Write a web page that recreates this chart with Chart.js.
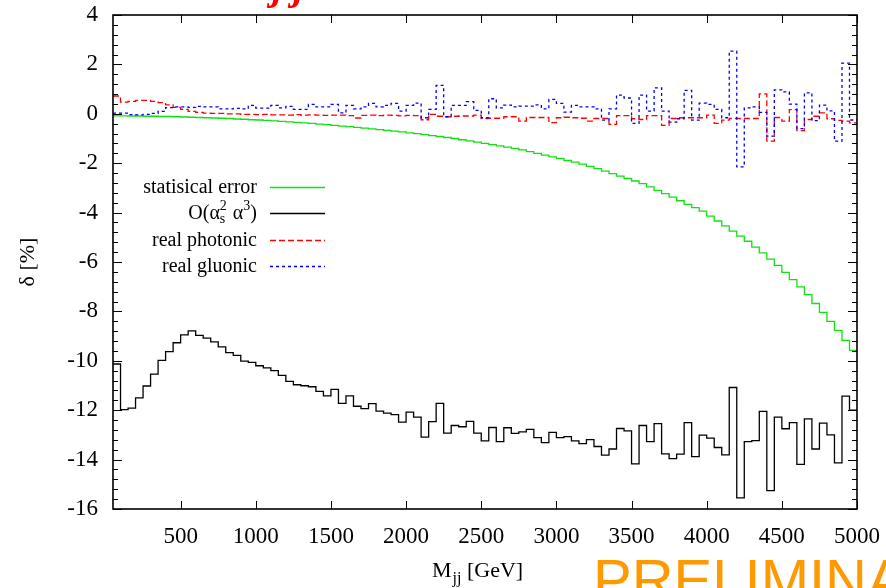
<!DOCTYPE html>
<html lang="en">
<head>
  <meta charset="UTF-8" />
  <title>Relative corrections vs M_jj</title>
  <style>
    body { margin: 0; background: #fff; }
    canvas { display: block; }
  </style>
</head>
<body>
  <canvas id="chart" width="886" height="588"></canvas>

  <script src="https://cdn.jsdelivr.net/npm/chart.js"></script>
  <script>
    // 50 GeV bins, left edges from 50 up to the closing edge at 5000
    const binEdges = [50, 100, 150, 200, 250, 300, 350, 400, 450, 500, 550, 600, 650, 700, 750, 800, 850, 900, 950, 1000,
      1050, 1100, 1150, 1200, 1250, 1300, 1350, 1400, 1450, 1500, 1550, 1600, 1650, 1700, 1750, 1800, 1850, 1900, 1950, 2000,
      2050, 2100, 2150, 2200, 2250, 2300, 2350, 2400, 2450, 2500, 2550, 2600, 2650, 2700, 2750, 2800, 2850, 2900, 2950, 3000,
      3050, 3100, 3150, 3200, 3250, 3300, 3350, 3400, 3450, 3500, 3550, 3600, 3650, 3700, 3750, 3800, 3850, 3900, 3950, 4000,
      4050, 4100, 4150, 4200, 4250, 4300, 4350, 4400, 4450, 4500, 4550, 4600, 4650, 4700, 4750, 4800, 4850, 4900, 4950, 5000];

    const xTicks = [500, 1000, 1500, 2000, 2500, 3000, 3500, 4000, 4500, 5000];

    // statistical error [%]
    const statError = [-0.08, -0.08, -0.09, -0.09, -0.10, -0.10, -0.11, -0.11, -0.12, -0.13,
      -0.14, -0.15, -0.16, -0.17, -0.18, -0.19, -0.21, -0.22, -0.24, -0.25,
      -0.27, -0.29, -0.31, -0.33, -0.35, -0.37, -0.39, -0.42, -0.44, -0.47,
      -0.50, -0.52, -0.55, -0.58, -0.61, -0.64, -0.67, -0.70, -0.73, -0.77,
      -0.80, -0.84, -0.88, -0.92, -0.96, -1.00, -1.05, -1.10, -1.15, -1.20,
      -1.25, -1.30, -1.35, -1.40, -1.46, -1.53, -1.60, -1.67, -1.74, -1.81,
      -1.89, -1.96, -2.04, -2.13, -2.22, -2.32, -2.42, -2.52, -2.62, -2.72,
      -2.83, -2.96, -3.10, -3.23, -3.37, -3.52, -3.67, -3.80, -3.94, -4.14,
      -4.34, -4.54, -4.75, -4.95, -5.16, -5.40, -5.63, -5.88, -6.14, -6.42,
      -6.71, -7.01, -7.32, -7.68, -8.04, -8.40, -8.77, -9.17, -9.58];

    // O(alpha_s^2 alpha^3) correction [%]
    const mixedOrder = [-10.13, -11.98, -11.92, -11.50, -11.02, -10.54, -9.98, -9.63, -9.27, -8.95,
      -8.79, -8.97, -9.08, -9.23, -9.44, -9.67, -9.78, -10.01, -10.06, -10.20,
      -10.29, -10.40, -10.59, -10.83, -10.97, -11.01, -11.05, -11.24, -11.42, -11.16,
      -11.72, -11.42, -11.84, -11.94, -11.73, -12.04, -12.12, -12.18, -12.48, -12.08,
      -12.28, -13.09, -12.46, -11.72, -12.93, -12.62, -12.67, -12.45, -12.93, -13.24,
      -12.70, -13.27, -12.71, -12.94, -12.88, -12.78, -13.11, -13.31, -12.90, -13.11,
      -13.07, -13.24, -13.35, -13.19, -13.47, -13.82, -13.57, -12.74, -12.84, -14.17,
      -12.62, -13.27, -12.54, -13.77, -13.96, -13.78, -12.50, -13.88, -13.01, -13.13,
      -13.51, -13.81, -11.08, -15.55, -13.27, -13.23, -12.05, -15.26, -12.28, -12.75,
      -12.50, -14.19, -12.35, -13.57, -12.52, -13.00, -14.13, -11.43, -12.00];

    // real photonic contribution [%]
    const realPhotonic = [0.72, 0.47, 0.50, 0.54, 0.54, 0.50, 0.45, 0.36, 0.26, 0.18,
      0.10, 0.06, 0.03, 0.02, 0.02, 0.00, 0.00, -0.02, -0.02, -0.03,
      -0.02, -0.04, -0.04, -0.05, -0.03, -0.05, -0.04, -0.05, -0.06, -0.05,
      -0.05, -0.07, -0.17, -0.06, -0.05, -0.07, -0.05, -0.06, -0.08, -0.06,
      -0.07, -0.24, -0.02, -0.10, -0.12, -0.10, -0.09, -0.09, -0.05, -0.19,
      -0.18, -0.18, -0.12, -0.12, -0.30, -0.15, -0.15, -0.15, -0.36, -0.16,
      -0.14, -0.16, -0.18, -0.30, -0.19, -0.19, -0.43, -0.07, -0.07, -0.20,
      -0.23, -0.07, -0.07, -0.47, -0.19, -0.16, -0.16, -0.16, -0.16, -0.05,
      -0.39, -0.26, -0.19, -0.19, -0.19, -0.19, 0.81, -1.11, -0.15, -0.30,
      0.17, -0.68, -0.23, -0.10, 0.04, -0.20, -0.27, -0.30, -0.37];

    // real gluonic contribution [%]
    const realGluonic = [0.03, 0.03, -0.03, -0.04, -0.02, 0.02, 0.10, 0.25, 0.28, 0.28,
      0.26, 0.30, 0.28, 0.28, 0.20, 0.20, 0.22, 0.20, 0.34, 0.23,
      0.23, 0.34, 0.24, 0.30, 0.18, 0.18, 0.38, 0.28, 0.28, 0.38,
      0.04, 0.34, 0.20, 0.28, 0.42, 0.28, 0.34, 0.42, 0.11, 0.34,
      0.43, -0.16, 0.18, 1.15, -0.12, 0.34, 0.34, 0.49, 0.14, -0.16,
      0.61, 0.24, 0.35, 0.28, 0.31, 0.31, 0.36, 0.20, 0.58, 0.42,
      0.07, 0.34, 0.28, 0.28, 0.20, -0.26, 0.20, 0.76, 0.64, -0.39,
      0.76, 0.11, 1.05, 0.11, -0.34, -0.20, 0.95, -0.26, 0.43, 0.38,
      0.18, -0.16, 2.54, -2.15, 0.24, 0.28, 0.06, -0.90, 0.97, 0.89,
      0.39, -0.60, 0.85, -0.28, 0.35, 0.12, -1.11, 2.05, -0.25];

    const serif = '"Liberation Serif", "DejaVu Serif", serif';

    // histogram: each value held from its left edge to the next edge
    function histPoints(values) {
      return binEdges.map((x, i) => ({ x: x, y: values[Math.min(i, values.length - 1)] }));
    }

    const series = [
      { label: 'statisical error', data: statError, color: '#11e011', dash: [] },
      { label: 'O(as2 a3)', data: mixedOrder, color: '#000000', dash: [] },
      { label: 'real photonic', data: realPhotonic, color: '#ff0000', dash: [6, 3] },
      { label: 'real gluonic', data: realGluonic, color: '#0000ff', dash: [3, 3] }
    ];

    // box and inward ticks on all four sides
    const framePlugin = {
      id: 'frame',
      afterDatasetsDraw(chart) {
        const { ctx, chartArea: a, scales: { x, y } } = chart;
        ctx.save();
        ctx.strokeStyle = '#000';
        ctx.lineWidth = 1;
        ctx.beginPath();
        xTicks.forEach(v => {
          const px = Math.round(x.getPixelForValue(v)) + 0.5;
          ctx.moveTo(px, a.bottom); ctx.lineTo(px, a.bottom - 8);
          ctx.moveTo(px, a.top); ctx.lineTo(px, a.top + 8);
        });
        for (let k = 0; k <= 50; k++) {
          const v = -16 + k * 0.4;
          const len = k % 5 === 0 ? 9 : 5;
          const py = Math.round(y.getPixelForValue(v)) + 0.5;
          ctx.moveTo(a.left, py); ctx.lineTo(a.left + len, py);
          ctx.moveTo(a.right, py); ctx.lineTo(a.right - len, py);
        }
        ctx.stroke();
        ctx.lineWidth = 1.6;
        ctx.strokeRect(a.left, a.top, a.right - a.left, a.bottom - a.top);
        ctx.restore();
      }
    };

    // legend, axis titles and the text around the frame
    const textPlugin = {
      id: 'texts',
      afterDraw(chart) {
        const { ctx } = chart;
        ctx.save();
        ctx.fillStyle = '#000';
        ctx.textBaseline = 'alphabetic';

        // legend
        const textRight = 257, lineFrom = 270, lineTo = 325;
        const rows = [187, 213, 240, 266];
        series.forEach((s, i) => {
          const yc = rows[i];
          const base = yc + 6;
          if (i === 1) {
            drawMixedLabel(ctx, textRight, base);
          } else {
            ctx.textAlign = 'right';
            ctx.font = '20px ' + serif;
            ctx.fillText(s.label, textRight, base);
          }
          ctx.beginPath();
          ctx.strokeStyle = s.color;
          ctx.lineWidth = 1.4;
          ctx.setLineDash(s.dash);
          ctx.moveTo(lineFrom, yc + 0.5);
          ctx.lineTo(lineTo, yc + 0.5);
          ctx.stroke();
          ctx.setLineDash([]);
        });

        // x axis title: M_jj [GeV]
        ctx.textAlign = 'left';
        ctx.font = '22px ' + serif;
        let cx = 432;
        ctx.fillText('M', cx, 577);
        cx += ctx.measureText('M').width;
        ctx.font = '16px ' + serif;
        ctx.fillText('jj', cx + 1, 583);
        cx += ctx.measureText('jj').width + 1;
        ctx.font = '22px ' + serif;
        ctx.fillText(' [GeV]', cx, 577);

        // y axis title
        ctx.save();
        ctx.translate(34, 262);
        ctx.rotate(-Math.PI / 2);
        ctx.textAlign = 'center';
        ctx.font = '22px ' + serif;
        ctx.fillText('δ [%]', 0, 0);
        ctx.restore();

        // title remnant at the top edge
        ctx.fillStyle = '#ff0000';
        ctx.textAlign = 'left';
        ctx.font = 'italic bold 40px ' + serif;
        ctx.fillText('j j', 272, -1);

        // preliminary stamp
        ctx.fillStyle = '#ff9900';
        ctx.font = '58px "Liberation Sans", Arial, sans-serif';
        ctx.fillText('PRELIMINARY', 593, 600);
        ctx.restore();
      }
    };

    // O(α_s^2 α^3), right aligned at x
    function drawMixedLabel(ctx, xRight, base) {
      const big = '20px ' + serif, small = '14px ' + serif;
      ctx.font = big; const w1 = ctx.measureText('O(α').width;
      ctx.font = small; const w2 = ctx.measureText('2').width;
      ctx.font = big; const w3 = ctx.measureText(' α').width;
      ctx.font = small; const w4 = ctx.measureText('3').width;
      ctx.font = big; const w5 = ctx.measureText(')').width;
      let px = xRight - (w1 + w2 + 1 + w3 + w4 + w5);
      ctx.textAlign = 'left';
      ctx.font = big; ctx.fillText('O(α', px, base); px += w1;
      ctx.font = small;
      ctx.fillText('2', px, base - 9);
      ctx.fillText('s', px, base + 4);
      px += w2 + 1;
      ctx.font = big; ctx.fillText(' α', px, base); px += w3;
      ctx.font = small; ctx.fillText('3', px, base - 9); px += w4;
      ctx.font = big; ctx.fillText(')', px, base);
    }

    new Chart(document.getElementById('chart').getContext('2d'), {
      type: 'line',
      data: {
        datasets: series.map((s, i) => ({
          label: s.label,
          data: histPoints(s.data),
          borderColor: s.color,
          borderWidth: 1.3,
          borderDash: s.dash,
          stepped: 'before',
          pointRadius: 0,
          fill: false,
          order: 4 - i
        }))
      },
      options: {
        responsive: false,
        animation: false,
        layout: { padding: { top: 15, right: 29, left: 0, bottom: 0 } },
        plugins: { legend: { display: false }, tooltip: { enabled: false } },
        scales: {
          x: {
            type: 'linear',
            min: 50,
            max: 5000,
            afterBuildTicks: s => { s.ticks = xTicks.map(v => ({ value: v })); },
            afterFit: s => { s.height = 79; s.paddingLeft = 0; s.paddingRight = 0; },
            grid: { display: false, drawTicks: false },
            border: { display: false },
            ticks: {
              font: { family: serif, size: 23 }, color: '#000', padding: 14,
              maxRotation: 0, autoSkip: false, callback: v => String(v)
            }
          },
          y: {
            type: 'linear',
            min: -16,
            max: 4,
            afterFit: s => { s.width = 113; s.paddingTop = 0; s.paddingBottom = 0; },
            grid: { display: false, drawTicks: false },
            border: { display: false },
            ticks: { stepSize: 2, font: { family: serif, size: 23 }, color: '#000', padding: 15, callback: v => String(v) }
          }
        }
      },
      plugins: [framePlugin, textPlugin]
    });
  </script>
</body>
</html>
